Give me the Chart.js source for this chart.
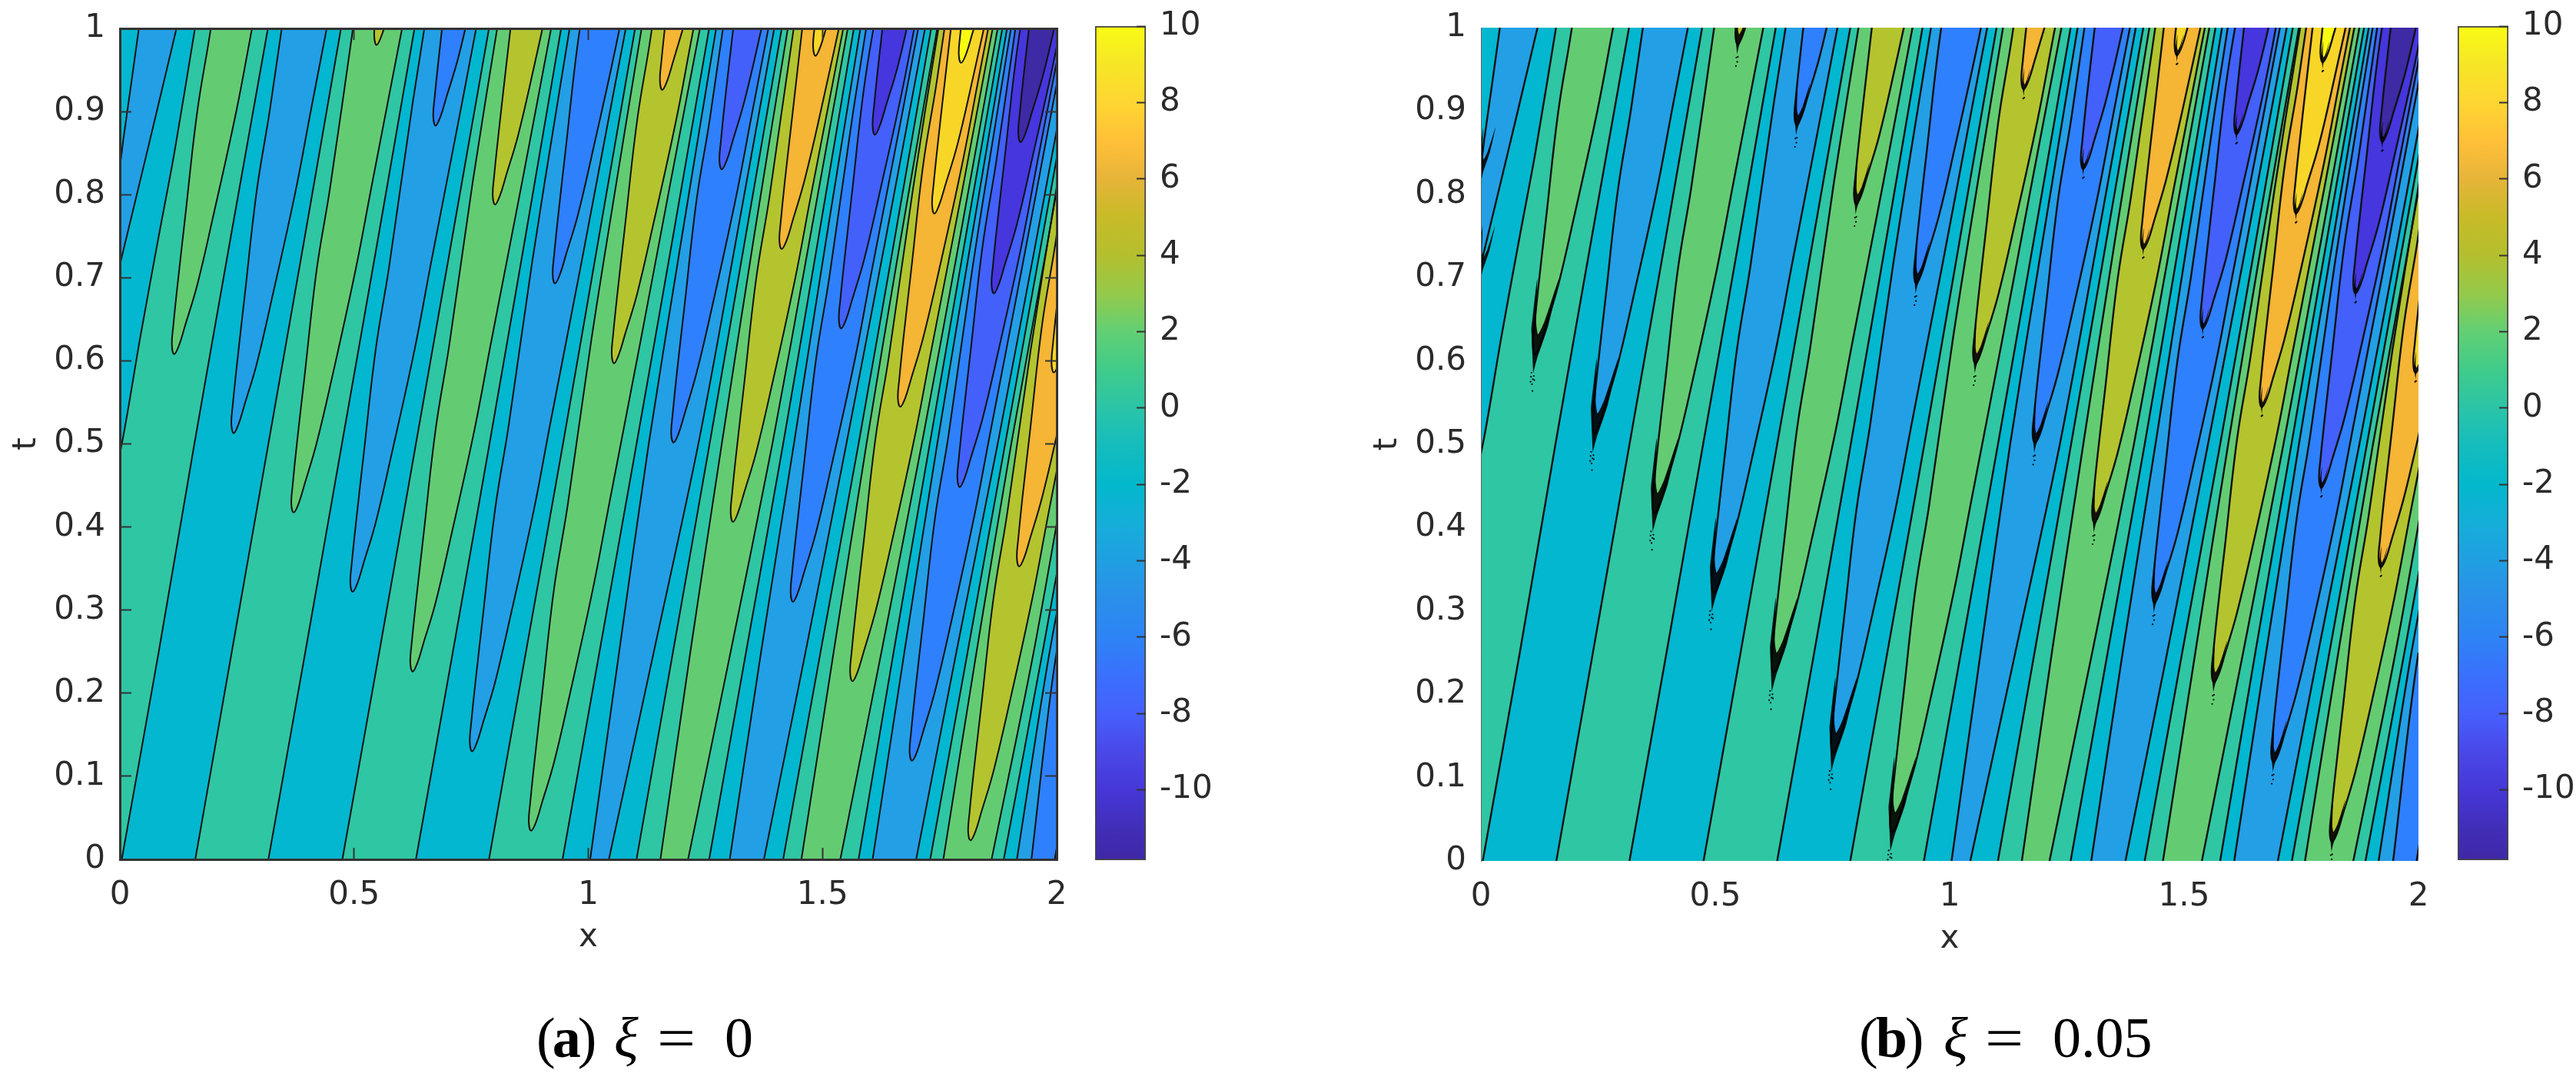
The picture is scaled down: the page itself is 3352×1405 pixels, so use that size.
<!DOCTYPE html>
<html>
<head>
<meta charset="utf-8">
<script src="https://cdn.jsdelivr.net/npm/chart.js@4"></script>
<style>
  html, body { margin: 0; padding: 0; background: #fff; width: 3352px; height: 1405px; overflow: hidden; }
  canvas { position: absolute; }
  .cap { position: absolute; top: 1300px; font-family: "Liberation Serif", serif; font-size: 74px; line-height: 100px; color: #000; white-space: nowrap; }
  .cap i { font-style: italic; }
  .eq { transform: scaleX(1.2); transform-origin: left center; }
</style>
</head>
<body>
<canvas id="plotA"></canvas>
<canvas id="barA"></canvas>
<canvas id="plotB"></canvas>
<canvas id="barB"></canvas>
<div class="cap" style="left:698px;letter-spacing:-4px">(<b>a</b>)</div>
<div class="cap" style="left:799px"><i>ξ</i></div>
<div class="cap eq" style="left:855px">=</div>
<div class="cap" style="left:943px">0</div>
<div class="cap" style="left:2419px;letter-spacing:-3px">(<b>b</b>)</div>
<div class="cap" style="left:2529px"><i>ξ</i></div>
<div class="cap eq" style="left:2583px">=</div>
<div class="cap" style="left:2671px">0.05</div>

<script>
// tick labels
const xTicks = [0, 0.5, 1, 1.5, 2];
const tTicks = [0, 0.1, 0.2, 0.3, 0.4, 0.5, 0.6, 0.7, 0.8, 0.9, 1];
const barTicks = [-10, -8, -6, -4, -2, 0, 2, 4, 6, 8, 10];
const barRange = [-11.84, 10];

// filled band colours, one per contour level
const darkest = '#3e2aa5', dark = '#4636de', b8 = '#4360fb', b6 = '#2f80fc', b4 = '#239fe6', cyan = '#02b7cf';
const teal = '#2fc6a4', green = '#63cc73', olive = '#b4c42f', orange = '#f5b535', yellow = '#f8d628', bright = '#f9fa12';

// colorbar gradient, value and colour
const barStops = [
  [10, '#f9fb15'], [9, '#f6e626'], [8, '#fed632'], [7, '#ffc038'], [6, '#e6b439'], [5, '#c8bb28'], [4, '#b4bf2e'],
  [3, '#94ca4a'], [2, '#62cf74'], [1, '#3fcb8a'], [0, '#2bc4a8'], [-1, '#14bcbd'], [-2, '#03b8cc'], [-3, '#15aed9'],
  [-4, '#209fe2'], [-5, '#2a8fea'], [-6, '#2d84f5'], [-7, '#3a70fd'], [-8, '#4560fc'], [-9, '#4a48e8'], [-10, '#4637d8'],
  [-11, '#412eb8'], [-11.84, '#3f28a6']
];

// contours that come in from the left edge: [x, t]
const edgeLine1 = [[-0.03, 0.74], [0, 0.835], [0.0075, 0.867], [0.024, 0.933], [0.0405, 1]];
const edgeLine2 = [[-0.03, 0.645], [0.001, 0.718], [0.0404, 0.81], [0.08, 0.903], [0.1208, 1]];
const edgeLine3 = [[-0.03, 0.41], [0.0075, 0.51], [0.0437, 0.629], [0.0833, 0.751], [0.1162, 0.85], [0.1603, 1]];
const edgeBands = [b4, cyan, teal];

// contours that start on t = 0: x read at each of these t
const lineT = [0, 0.25, 0.5, 0.75, 1];
const lineXs = [
  [0.004, 0.083, 0.159, 0.237, 0.316],
  [0.161, 0.239, 0.317, 0.395, 0.472],
  [0.317, 0.396, 0.474, 0.552, 0.629],
  [0.475, 0.554, 0.632, 0.710, 0.788],
  [0.632, 0.711, 0.789, 0.866, 0.942],
  [0.788, 0.867, 0.946, 1.023, 1.100],
  [0.945, 1.024, 1.103, 1.181, 1.258],
  [1.004, 1.066, 1.129, 1.200, 1.273],
  [1.044, 1.140, 1.235, 1.317, 1.397],
  [1.103, 1.181, 1.259, 1.336, 1.413],
  [1.154, 1.218, 1.285, 1.354, 1.426],
  [1.213, 1.304, 1.393, 1.474, 1.554],
  [1.258, 1.337, 1.416, 1.492, 1.567],
  [1.302, 1.369, 1.439, 1.509, 1.581],
  [1.375, 1.464, 1.551, 1.636, 1.719],
  [1.416, 1.496, 1.577, 1.655, 1.732],
  [1.455, 1.524, 1.594, 1.668, 1.745],
  [1.538, 1.626, 1.712, 1.794, 1.874],
  [1.577, 1.652, 1.729, 1.806, 1.884],
  [1.607, 1.675, 1.745, 1.819, 1.894],
  [1.700, 1.786, 1.874, 1.958, 2.04],
  [1.730, 1.810, 1.890, 1.970, 2.05],
  [1.758, 1.829, 1.903, 1.983, 2.06],
  [1.861, 1.951, 2.03, 2.11, 2.19],
  [1.887, 1.970, 2.05, 2.13, 2.21],
  [1.915, 1.985, 2.07, 2.15, 2.23],
  [1.946, 2.0, 2.09, 2.17, 2.25],
  [1.996, 2.07, 2.15, 2.23, 2.31]
];
const lineBands = [cyan, teal, cyan, teal, cyan, teal, cyan, b4, cyan, teal, green, teal, cyan, b4, cyan, teal, green,
  teal, cyan, b4, cyan, teal, green, teal, cyan, b4, b6, b8];

// closed tongues, left branch from the top down to the tip, then right branch back up: [x, t]
const tongues = [
  [[0.2445,1.198],[0.194,0.9997],[0.165,0.899],[0.139,0.771],[0.123,0.691],[0.114,0.642],[0.111,0.619],[0.116,0.608],[0.1265,0.619],[0.139,0.642],[0.165,0.691],[0.198,0.771],[0.248,0.899],[0.282,0.9997],[0.35,1.198]],
  [[0.3715,1.103],[0.321,0.905],[0.292,0.804],[0.266,0.676],[0.25,0.596],[0.241,0.547],[0.238,0.524],[0.243,0.513],[0.2535,0.524],[0.266,0.547],[0.292,0.596],[0.325,0.676],[0.375,0.804],[0.409,0.905],[0.477,1.103]],
  [[0.4995,1.0075],[0.449,0.809],[0.42,0.709],[0.394,0.58],[0.378,0.501],[0.369,0.451],[0.366,0.428],[0.371,0.4175],[0.3815,0.428],[0.394,0.451],[0.42,0.501],[0.453,0.58],[0.503,0.709],[0.537,0.809],[0.605,1.0075]],
  [[0.6795,1.103],[0.6255,0.912],[0.575,0.714],[0.546,0.613],[0.52,0.485],[0.504,0.405],[0.495,0.356],[0.492,0.333],[0.497,0.322],[0.5075,0.333],[0.52,0.356],[0.546,0.405],[0.579,0.485],[0.629,0.613],[0.663,0.714],[0.731,0.912],[0.795,1.103]],
  [[0.8075,1.007],[0.7535,0.816],[0.703,0.618],[0.674,0.517],[0.648,0.389],[0.632,0.309],[0.623,0.26],[0.62,0.237],[0.625,0.226],[0.6355,0.237],[0.648,0.26],[0.674,0.309],[0.707,0.389],[0.757,0.517],[0.791,0.618],[0.859,0.816],[0.923,1.007]],
  [[0.99,1.103],[0.9345,0.911],[0.8805,0.72],[0.83,0.522],[0.801,0.421],[0.775,0.293],[0.759,0.213],[0.75,0.164],[0.747,0.141],[0.752,0.13],[0.7625,0.141],[0.775,0.164],[0.801,0.213],[0.834,0.293],[0.884,0.421],[0.918,0.522],[0.986,0.72],[1.05,0.911],[1.115,1.103]],
  [[1.116,1.0075],[1.0605,0.816],[1.0065,0.625],[0.956,0.426],[0.927,0.326],[0.901,0.197],[0.885,0.117],[0.876,0.068],[0.873,0.045],[0.878,0.0345],[0.8885,0.045],[0.901,0.068],[0.927,0.117],[0.96,0.197],[1.01,0.326],[1.044,0.426],[1.112,0.625],[1.176,0.816],[1.241,1.0075]],
  [[0.546,1.014],[0.543,0.991],[0.548,0.98],[0.5585,0.991],[0.571,1.014]],
  [[0.697,1.046],[0.681,0.966],[0.672,0.917],[0.669,0.894],[0.674,0.883],[0.6845,0.894],[0.697,0.917],[0.723,0.966],[0.756,1.046]],
  [[0.85,1.079],[0.824,0.951],[0.808,0.871],[0.799,0.822],[0.796,0.799],[0.801,0.788],[0.8115,0.799],[0.824,0.822],[0.85,0.871],[0.883,0.951],[0.933,1.079]],
  [[1.007,1.085],[0.978,0.984],[0.952,0.856],[0.936,0.776],[0.927,0.727],[0.924,0.704],[0.929,0.693],[0.9395,0.704],[0.952,0.727],[0.978,0.776],[1.011,0.856],[1.061,0.984],[1.095,1.085]],
  [[1.1835,1.187],[1.133,0.989],[1.104,0.888],[1.078,0.76],[1.062,0.68],[1.053,0.631],[1.05,0.608],[1.055,0.597],[1.0655,0.608],[1.078,0.631],[1.104,0.68],[1.137,0.76],[1.187,0.888],[1.221,0.989],[1.289,1.187]],
  [[1.3105,1.092],[1.26,0.893],[1.231,0.793],[1.205,0.664],[1.189,0.585],[1.18,0.535],[1.177,0.512],[1.182,0.5017],[1.1925,0.512],[1.205,0.535],[1.231,0.585],[1.264,0.664],[1.314,0.793],[1.348,0.893],[1.416,1.092]],
  [[1.4915,1.187],[1.4375,0.996],[1.387,0.798],[1.358,0.697],[1.332,0.568],[1.316,0.489],[1.307,0.44],[1.304,0.417],[1.309,0.406],[1.3195,0.417],[1.332,0.44],[1.358,0.489],[1.391,0.568],[1.441,0.697],[1.475,0.798],[1.543,0.996],[1.607,1.187]],
  [[1.6195,1.092],[1.5655,0.9],[1.515,0.702],[1.486,0.601],[1.46,0.473],[1.444,0.393],[1.435,0.344],[1.432,0.321],[1.437,0.31],[1.4475,0.321],[1.46,0.344],[1.486,0.393],[1.519,0.473],[1.569,0.601],[1.603,0.702],[1.671,0.9],[1.735,1.092]],
  [[1.802,1.187],[1.7465,0.996],[1.6925,0.804],[1.642,0.606],[1.613,0.506],[1.587,0.377],[1.571,0.298],[1.562,0.248],[1.559,0.225],[1.564,0.2144],[1.5745,0.225],[1.587,0.248],[1.613,0.298],[1.646,0.377],[1.696,0.506],[1.73,0.606],[1.798,0.804],[1.862,0.996],[1.927,1.187]],
  [[1.929,1.092],[1.8735,0.9],[1.8195,0.709],[1.769,0.51],[1.74,0.41],[1.714,0.281],[1.698,0.202],[1.689,0.152],[1.686,0.129],[1.691,0.1187],[1.7015,0.129],[1.714,0.152],[1.74,0.202],[1.773,0.281],[1.823,0.41],[1.857,0.51],[1.925,0.709],[1.989,0.9],[2.054,1.092]],
  [[2.09,1.123],[2.054,0.996],[1.9985,0.804],[1.9445,0.613],[1.894,0.415],[1.865,0.314],[1.839,0.185],[1.823,0.106],[1.814,0.0566],[1.811,0.0335],[1.816,0.0229],[1.8265,0.0335],[1.839,0.0566],[1.865,0.106],[1.898,0.185],[1.948,0.314],[1.982,0.415],[2.05,0.613],[2.114,0.804],[2.179,0.996],[2.22,1.123]],
  [[1.165,1.009],[1.156,0.96],[1.153,0.937],[1.158,0.926],[1.1685,0.937],[1.181,0.96],[1.207,1.009]],
  [[1.334,1.122],[1.308,0.993],[1.292,0.914],[1.283,0.864],[1.28,0.841],[1.285,0.8304],[1.2955,0.841],[1.308,0.864],[1.334,0.914],[1.367,0.993],[1.417,1.122]],
  [[1.462,1.026],[1.436,0.897],[1.42,0.818],[1.411,0.768],[1.408,0.745],[1.413,0.7346],[1.4235,0.745],[1.436,0.768],[1.462,0.818],[1.495,0.897],[1.545,1.026]],
  [[1.618,1.031],[1.589,0.93],[1.563,0.802],[1.547,0.722],[1.538,0.673],[1.535,0.65],[1.54,0.639],[1.5505,0.65],[1.563,0.673],[1.589,0.722],[1.622,0.802],[1.672,0.93],[1.706,1.031]],
  [[1.7945,1.135],[1.744,0.936],[1.715,0.836],[1.689,0.707],[1.673,0.628],[1.664,0.578],[1.661,0.555],[1.666,0.5447],[1.6765,0.555],[1.689,0.578],[1.715,0.628],[1.748,0.707],[1.798,0.836],[1.832,0.936],[1.9,1.135]],
  [[1.9215,1.038],[1.871,0.84],[1.842,0.739],[1.816,0.6105],[1.8,0.531],[1.791,0.482],[1.788,0.459],[1.793,0.448],[1.8035,0.459],[1.816,0.482],[1.842,0.531],[1.875,0.6105],[1.925,0.739],[1.959,0.84],[2.027,1.038]],
  [[2.0485,0.943],[1.998,0.744],[1.969,0.644],[1.943,0.515],[1.927,0.436],[1.918,0.386],[1.915,0.363],[1.92,0.3525],[1.9305,0.363],[1.943,0.386],[1.969,0.436],[2.002,0.515],[2.052,0.644],[2.086,0.744],[2.154,0.943]],
  [[1.492,1.05],[1.483,1.001],[1.48,0.978],[1.485,0.967],[1.4955,0.978],[1.508,1.001],[1.534,1.05]],
  [[1.635,1.035],[1.619,0.955],[1.61,0.906],[1.607,0.883],[1.612,0.872],[1.6225,0.883],[1.635,0.906],[1.661,0.955],[1.694,1.035]],
  [[1.788,1.068],[1.762,0.94],[1.746,0.86],[1.737,0.811],[1.734,0.788],[1.739,0.777],[1.7495,0.788],[1.762,0.811],[1.788,0.86],[1.821,0.94],[1.871,1.068]],
  [[1.944,1.073],[1.915,0.972],[1.889,0.844],[1.873,0.764],[1.864,0.715],[1.861,0.692],[1.866,0.681],[1.8765,0.692],[1.889,0.715],[1.915,0.764],[1.948,0.844],[1.998,0.972],[2.032,1.073]],
  [[2.043,0.877],[2.017,0.749],[2.001,0.669],[1.992,0.62],[1.989,0.597],[1.994,0.586],[2.0045,0.597],[2.017,0.62],[2.043,0.669],[2.076,0.749],[2.126,0.877]],
  [[1.803,1.042],[1.794,0.992],[1.791,0.969],[1.796,0.9585],[1.8065,0.969],[1.819,0.992],[1.845,1.042]],
  [[1.946,1.026],[1.93,0.946],[1.921,0.897],[1.918,0.874],[1.923,0.863],[1.9335,0.874],[1.946,0.897],[1.972,0.946],[2.005,1.026]]
];
const tongueBands = [green, b4, green, b4, green, b4, green,
  olive, b6, olive, b6, olive, b6, olive, b6, olive, b6, olive,
  orange, b8, orange, b8, orange, b8, orange,
  yellow, dark, yellow, dark, yellow, bright, darkest];

// panel (b): black noise around the tongue tips, big for the first family, smaller further on
const bigTips = [[0.116,0.608],[0.243,0.513],[0.371,0.4175],[0.497,0.322],[0.625,0.226],[0.752,0.13],[0.878,0.0345]];
const midTips = [[0.548,0.98],[0.674,0.883],[0.801,0.788],[0.929,0.693],[1.055,0.597],[1.182,0.5017],[1.309,0.406],[1.437,0.31],[1.564,0.2144],[1.691,0.1187],[1.816,0.0229]];
const smallTips = [[1.158,0.926],[1.285,0.8304],[1.413,0.7346],[1.54,0.639],[1.666,0.5447],[1.793,0.448],[1.92,0.3525],
  [1.485,0.967],[1.612,0.872],[1.739,0.777],[1.866,0.681],[1.994,0.586],[1.796,0.9585],[1.923,0.863]];
const edgeTips = [[0.002,0.712],[0.003,0.83]];
// offsets from the tip: dark V that follows the two branches, loose specks below it
const bigCore = [[-0.0085,0.03],[0.004,0.09],[0.002,0.038],[0.006,0.024],[0.02,0.04],[0.05,0.09],[0.028,0.035],[0.004,-0.005],[-0.0045,-0.023]];
const bigSpecks = [[-0.009,-0.027],[-0.005,-0.03],[-0.007,-0.036],[-0.003,-0.026],[-0.006,-0.044],[-0.01,-0.033],[-0.002,-0.031],[-0.008,-0.022]];
const midCore = [[-0.0055,0.012],[0.0015,0.05],[0.0005,0.018],[0.003,0.012],[0.012,0.022],[0.028,0.05],[0.016,0.02],[0.002,-0.003],[-0.0015,-0.012]];
const midSpecks = [[-0.003,-0.016],[-0.001,-0.021],[-0.004,-0.026],[0,-0.015]];
const smallCore = [[-0.004,0.006],[0.001,0.025],[0,0.01],[0.002,0.006],[0.007,0.012],[0.014,0.025],[0.008,0.01],[0.001,-0.002],[0,-0.008]];
const smallSpecks = [[-0.001,-0.011],[0.001,-0.01]];

const inkColor = '#2b2b2b';
const fontFamily = '"DejaVu Sans", sans-serif';
const fontSize = 42;

function toXY(pts) {
    return pts.map(p => ({ x: p[0], y: p[1] }));
}

function offsetPts(tip, offs) {
    return offs.map(o => [tip[0] + o[0], tip[1] + o[1]]);
}

// dataset helpers
function fillSet(pts, color, tension) {
    return { data: toXY(pts), showLine: true, pointRadius: 0, borderWidth: 0, tension: tension || 0, backgroundColor: color, fill: 'shape', clip: 0 };
}

function lineSet(pts, width, tension) {
    return { data: toXY(pts), showLine: true, pointRadius: 0, borderWidth: width, borderColor: '#111', tension: tension || 0, fill: false, clip: 0 };
}

function contourDatasets(lineWidth, noisy) {
    const edgeLines = [edgeLine1, edgeLine2, edgeLine3];
    const startLines = lineXs.map(xs => xs.map((x, i) => [x, lineT[i]]));
    const list = [];

    // paint from left to right, each band covers everything on its right
    list.push(fillSet([[-1, -1], [3, -1], [3, 2], [-1, 2]], cyan));
    edgeLines.concat(startLines).forEach((pts, i) => {
        const color = i < 3 ? edgeBands[i] : lineBands[i - 3];
        list.push(fillSet(pts.concat([[3, 1.2], [3, -0.5], [pts[0][0], -0.5]]), color));
    });
    tongues.forEach((pts, i) => list.push(fillSet(pts, tongueBands[i], 0.4)));

    edgeLines.concat(startLines).forEach(pts => list.push(lineSet(pts, lineWidth, 0.3)));
    tongues.forEach(pts => list.push(lineSet(pts, lineWidth, 0.4)));

    if (noisy) {
        bigTips.forEach(tip => list.push(fillSet(offsetPts(tip, bigCore), 'rgba(0,0,0,0.9)', 0.2)));
        midTips.concat(edgeTips).forEach(tip => list.push(fillSet(offsetPts(tip, midCore), 'rgba(0,0,0,0.9)', 0.2)));
        smallTips.forEach(tip => list.push(fillSet(offsetPts(tip, smallCore), 'rgba(0,0,0,0.9)', 0.2)));

        let specks = [];
        bigTips.forEach(tip => { specks = specks.concat(offsetPts(tip, bigSpecks)); });
        midTips.forEach(tip => { specks = specks.concat(offsetPts(tip, midSpecks)); });
        smallTips.forEach(tip => { specks = specks.concat(offsetPts(tip, smallSpecks)); });
        list.push({ data: toXY(specks), showLine: false, pointRadius: 1.1, pointBorderWidth: 0, backgroundColor: '#000', clip: 0 });
    }
    // chart.js paints the first dataset last
    return list.reverse();
}

function fixedTicks(values) {
    return scale => { scale.ticks = values.map(v => ({ value: v })); };
}

function axisBase(min, max, values) {
    return {
        type: 'linear', min: min, max: max,
        afterBuildTicks: fixedTicks(values),
        grid: { drawOnChartArea: false, drawTicks: false },
        ticks: { autoSkip: false, maxRotation: 0, color: inkColor, font: { family: fontFamily, size: fontSize }, callback: v => String(v) }
    };
}

function plotChart(id, box, framed, lineWidth, noisy) {
    const padTop = 80, padRight = 80, axisLeft = 156, axisBottom = 150;
    const canvas = document.getElementById(id);
    canvas.width = box.right - box.left + axisLeft + padRight;
    canvas.height = box.bottom - box.top + padTop + axisBottom;
    canvas.style.left = (box.left - axisLeft) + 'px';
    canvas.style.top = (box.top - padTop) + 'px';

    const x = axisBase(0, 2, xTicks);
    const y = axisBase(0, 1, tTicks);
    x.afterFit = s => { s.height = axisBottom; };
    y.afterFit = s => { s.width = axisLeft; };
    x.title = { display: true, text: 'x', color: inkColor, font: { family: fontFamily, size: fontSize }, padding: { top: 0, bottom: 23 } };
    y.title = { display: true, text: 't', color: inkColor, font: { family: fontFamily, size: fontSize }, padding: { top: 10, bottom: 0 } };
    const tick = { drawOnChartArea: false, drawTicks: true, tickLength: -15, tickWidth: 2, tickColor: '#333', z: 2 };
    const scales = { x: x, y: y };

    if (framed) {
        x.grid = tick; y.grid = tick;
        x.ticks.padding = 37; y.ticks.padding = 34;
        x.border = { color: '#333', width: 3, z: 2 }; y.border = { color: '#333', width: 3, z: 2 };
        // top and right side of the box
        const x2 = axisBase(0, 2, xTicks);
        const y2 = axisBase(0, 1, tTicks);
        x2.position = 'top'; y2.position = 'right';
        x2.afterFit = s => { s.height = 0; };
        y2.afterFit = s => { s.width = 0; };
        x2.grid = tick; y2.grid = tick;
        x2.ticks = { display: false }; y2.ticks = { display: false };
        x2.border = { color: '#333', width: 3, z: 2 }; y2.border = { color: '#333', width: 3, z: 2 };
        scales.x2 = x2; scales.y2 = y2;
    } else {
        x.ticks.padding = 22; y.ticks.padding = 19;
        x.border = { display: false };
        y.border = { color: '#666', width: 1, z: 2 };
    }

    return new Chart(canvas, {
        type: 'scatter',
        data: { datasets: contourDatasets(lineWidth, noisy) },
        options: {
            responsive: false, animation: false, devicePixelRatio: 1, events: [],
            layout: { padding: { top: padTop, right: padRight, left: 0, bottom: 0 } },
            plugins: { legend: { display: false }, tooltip: { enabled: false } },
            scales: scales
        }
    });
}

function colorbarChart(id, box) {
    const padTop = 80, padBottom = 80, axisRight = 110;
    const canvas = document.getElementById(id);
    canvas.width = box.right - box.left + axisRight;
    canvas.height = box.bottom - box.top + padTop + padBottom;
    canvas.style.left = box.left + 'px';
    canvas.style.top = (box.top - padTop) + 'px';

    const y = axisBase(barRange[0], barRange[1], barTicks);
    y.position = 'right';
    y.afterFit = s => { s.width = axisRight; };
    y.grid = { drawOnChartArea: false, drawTicks: true, tickLength: -12, tickWidth: 2, tickColor: '#333', z: 2 };
    y.border = { display: false };
    y.ticks.padding = 30;

    const gradient = canvas.getContext('2d').createLinearGradient(0, padTop, 0, canvas.height - padBottom);
    barStops.forEach(s => gradient.addColorStop((barRange[1] - s[0]) / (barRange[1] - barRange[0]), s[1]));

    return new Chart(canvas, {
        type: 'bar',
        data: {
            labels: [''],
            datasets: [{ data: [barRange], backgroundColor: gradient, borderColor: '#444', borderWidth: 2, borderSkipped: false, barPercentage: 1, categoryPercentage: 1 }]
        },
        options: {
            responsive: false, animation: false, devicePixelRatio: 1, events: [],
            layout: { padding: { top: padTop, bottom: padBottom, left: 0, right: 0 } },
            plugins: { legend: { display: false }, tooltip: { enabled: false } },
            scales: { x: { display: false }, y: y }
        }
    });
}

plotChart('plotA', { left: 156, right: 1375, top: 37, bottom: 1118 }, true, 2, false);
colorbarChart('barA', { left: 1425, right: 1491, top: 34, bottom: 1119 });
plotChart('plotB', { left: 1927, right: 3147, top: 36, bottom: 1120 }, false, 2.4, true);
colorbarChart('barB', { left: 3198, right: 3264, top: 34, bottom: 1119 });
</script>
</body>
</html>
